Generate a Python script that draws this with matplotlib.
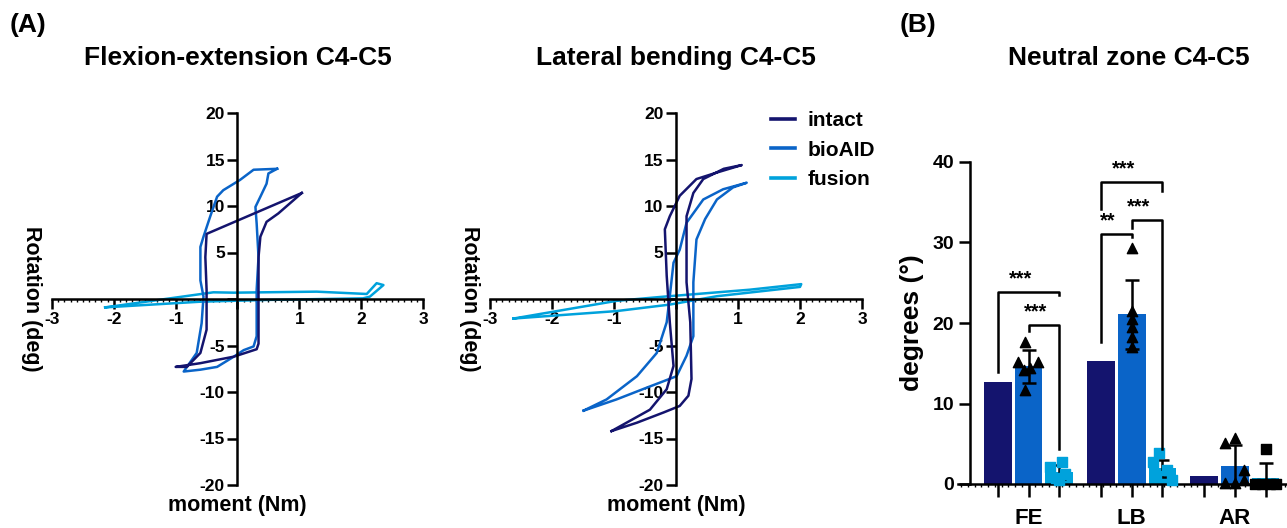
import matplotlib.pyplot as plt
import numpy as np
from matplotlib.lines import Line2D

plt.rcParams['font.family'] = ['Liberation Sans', 'DejaVu Sans']
plt.rcParams['font.weight'] = 'bold'

c_intact = '#14146e'
c_bioaid = '#0a64c8'
c_fusion = '#00a2dc'

# ---- panel A data: hysteresis loops (moment Nm, rotation deg)
fe_intact_x = [1.04, 0.66, 0.47, 0.37, 0.34, 0.34, 0.34, 0.31, -0.06, -0.6, -1.0, -0.82, -0.6, -0.5, -0.5, -0.52, -0.5, 1.04]
fe_intact_y = [11.4, 9.2, 8.3, 6.7, 4.5, 1.0, -4.8, -5.4, -6.2, -6.9, -7.3, -7.3, -5.8, -3.3, 1.0, 4.5, 7.0, 11.4]

fe_bioaid_x = [0.64, 0.26, 0.04, -0.23, -0.33, -0.44, -0.55, -0.6, -0.6, -0.55, -0.58, -0.66, -0.87,
               -0.6, -0.33, -0.06, 0.1, 0.26, 0.31, 0.31, 0.34, 0.31, 0.29, 0.37, 0.47, 0.5, 0.64]
fe_bioaid_y = [14.0, 13.9, 12.8, 11.7, 11.0, 8.9, 6.7, 5.6, 2.0, 0.25, -2.6, -5.8, -7.8,
               -7.6, -7.3, -6.2, -5.5, -5.1, -4.0, 1.0, 4.5, 8.1, 9.9, 11.0, 12.4, 13.5, 14.0]

fe_fusion_x = [-2.14, -0.39, -0.06, 1.28, 2.09, 2.25, 2.36, 2.14, 2.03, 0.47, -0.6, -2.14]
fe_fusion_y = [-0.9, 0.72, 0.68, 0.79, 0.54, 1.7, 1.5, 0.25, 0.07, -0.1, -0.29, -0.9]

lb_intact_x = [-1.04, -0.63, -0.2, 0.06, 0.2, 0.25, 0.23, 0.17, 0.17, 0.28, 0.44, 0.77, 1.06,
               0.66, 0.33, 0.06, -0.1, -0.18, -0.15, -0.1, -0.04, -0.15, -0.42, -1.04]
lb_intact_y = [-14.2, -13.3, -12.2, -11.5, -10.4, -8.6, -2.5, 1.8, 8.9, 11.4, 12.9, 14.0, 14.4,
               13.6, 12.9, 11.1, 8.9, 7.5, 2.5, -2.5, -7.2, -9.7, -11.9, -14.2]

lb_bioaid_x = [-1.49, -0.96, -0.42, 0.01, 0.17, 0.28, 0.28, 0.33, 0.47, 0.66, 0.92, 1.14,
               0.76, 0.44, 0.17, 0.06, -0.04, -0.1, -0.15, -0.31, -0.63, -1.12, -1.49]
lb_bioaid_y = [-12.0, -10.8, -9.4, -8.3, -6.1, -4.0, 1.8, 6.4, 8.6, 10.7, 12.0, 12.5,
               11.8, 10.7, 8.2, 5.3, 3.9, 0.3, -2.5, -5.8, -8.3, -10.8, -12.0]

lb_fusion_x = [-2.62, -0.96, -0.2, 1.19, 2.02, 2.0, 0.66, -0.1, -0.96, -2.62]
lb_fusion_y = [-2.1, -0.2, 0.25, 1.0, 1.6, 1.3, 0.3, -0.6, -1.3, -2.1]

# ---- panel B data: neutral zone
categories = ['FE', 'LB', 'AR']
nz_intact = [12.65, 15.25, 1.0]
nz_bioaid = [14.6, 21.1, 2.25]
nz_fusion = [1.45, 1.95, 0.8]
sd_bioaid = [2.0, 4.3, 2.6]
sd_fusion = [0.85, 1.05, 1.75]
pts_bioaid = [[17.7, 15.2, 15.2, 14.4, 14.2, 11.7],
              [29.3, 21.5, 20.5, 19.5, 18.3, 17.0],
              [5.75, 5.1, 1.8, 0.5, 0.1, 0.1]]
pts_fusion = [[2.7, 2.1, 1.2, 0.8, 0.5],
              [3.8, 2.7, 1.8, 1.0, 0.5],
              [4.4, 0.0, 0.0, 0.0, 0.0]]
# brackets: (category, bar from, bar to, left foot, top, right foot, label)
brackets = [(0, 0, 2, 13.9, 23.85, 23.5, '***'),
            (0, 1, 2, 19.0, 19.8, 4.4, '***'),
            (1, 0, 2, 34.2, 37.5, 36.4, '***'),
            (1, 0, 1, 17.65, 31.1, 30.7, '**'),
            (1, 1, 2, 31.8, 32.8, 4.3, '***')]

fig = plt.figure(figsize=(12.87, 5.28), dpi=100)

lw = 1.8


def loop_axes(rect, title, curves):
    ax = fig.add_axes(rect)
    for x, y, col in curves:
        ax.plot(x, y, color=col, lw=lw, solid_joinstyle='round')
    ax.set_xlim(-3, 3)
    ax.set_ylim(-20, 20)
    ax.spines['left'].set_position('zero')
    ax.spines['bottom'].set_position('zero')
    ax.spines['right'].set_visible(False)
    ax.spines['top'].set_visible(False)
    for s in ('left', 'bottom'):
        ax.spines[s].set_linewidth(lw)
    ax.set_xticks(np.arange(-3, 4, 1))
    ax.set_xticks(np.arange(-3, 3.01, 0.1), minor=True)
    ax.set_yticks(np.arange(-20, 21, 5))
    ax.set_yticklabels([str(v) if v != 0 else '' for v in range(-20, 21, 5)])
    ax.set_xticklabels([str(v) if v != 0 else '' for v in range(-3, 4)])
    ax.tick_params(axis='both', which='major', direction='out', length=7, width=lw,
                   labelsize=12.5, pad=2)
    ax.tick_params(axis='x', which='minor', direction='out', length=2.5, width=1)
    for t in ax.get_xticklabels() + ax.get_yticklabels():
        t.set_fontweight('bold')
    ax.text(0.5, -0.055, 'moment (Nm)', transform=ax.transAxes, ha='center', va='center',
            fontsize=15.5, fontweight='bold')
    ax.text(-0.055, 0.5, 'Rotation (deg)', transform=ax.transAxes, ha='center', va='center',
            rotation=-90, fontsize=15.5, fontweight='bold')
    fig.text(rect[0] + rect[2] / 2, 1 - 58 / 528, title, ha='center', va='center',
             fontsize=19, fontweight='bold')
    return ax


ax1 = loop_axes([52 / 1287, 1 - 485 / 528, 371 / 1287, 372 / 528], 'Flexion-extension C4-C5',
                [(fe_fusion_x, fe_fusion_y, c_fusion), (fe_bioaid_x, fe_bioaid_y, c_bioaid),
                 (fe_intact_x, fe_intact_y, c_intact)])
ax2 = loop_axes([490 / 1287, 1 - 485 / 528, 372 / 1287, 372 / 528], 'Lateral bending C4-C5',
                [(lb_fusion_x, lb_fusion_y, c_fusion), (lb_bioaid_x, lb_bioaid_y, c_bioaid),
                 (lb_intact_x, lb_intact_y, c_intact)])

# legend
handles = [Line2D([], [], color=c, lw=2.6) for c in (c_intact, c_bioaid, c_fusion)]
leg = ax2.legend(handles, ['intact', 'bioAID', 'fusion'], loc='upper left',
                 bbox_to_anchor=(0.705, 1.055), frameon=False, fontsize=15, handlelength=1.15,
                 handletextpad=0.6, labelspacing=0.5)
for t in leg.get_texts():
    t.set_fontweight('bold')

fig.text(10 / 1287, 1 - 25 / 528, '(A)', fontsize=19, fontweight='bold', va='center')
fig.text(900 / 1287, 1 - 25 / 528, '(B)', fontsize=19, fontweight='bold', va='center')

# ---- panel B
ax3 = fig.add_axes([958 / 1287, 1 - 484 / 528, 329 / 1287, 322 / 528])
group_gap = 3.36
width = 0.9
centers = np.arange(len(categories)) * group_gap
offs = np.array([-1.0, 0.0, 1.0])
pos = [centers + o for o in offs]

ax3.bar(pos[0], nz_intact, width, color=c_intact, zorder=2)
ax3.bar(pos[1], nz_bioaid, width, color=c_bioaid, zorder=2)
ax3.bar(pos[2], nz_fusion, width, color=c_fusion, zorder=2)
ax3.errorbar(pos[1], nz_bioaid, yerr=sd_bioaid, fmt='none', ecolor='black', elinewidth=lw,
             capsize=5, capthick=lw, zorder=3)
ax3.errorbar(pos[2], nz_fusion, yerr=sd_fusion, fmt='none', ecolor='black', elinewidth=lw,
             capsize=5, capthick=lw, zorder=3)

jit_b = [[-0.12, -0.35, 0.32, 0.05, -0.15, -0.12], [0, 0, 0, 0, 0, 0], [0.0, -0.32, 0.3, 0.3, -0.32, 0.0]]
jit_f = [[0.1, -0.3, 0.2, -0.1, 0.0], [-0.1, -0.3, 0.15, -0.2, 0.3], [0.0, -0.35, -0.12, 0.15, 0.35]]
sq_col = [c_fusion, c_fusion, 'black']
for i in range(len(categories)):
    ax3.scatter(pos[1][i] + np.array(jit_b[i]), pts_bioaid[i], marker='^', s=55, color='black',
                zorder=4, clip_on=False)
    ax3.scatter(pos[2][i] + np.array(jit_f[i]), pts_fusion[i], marker='s', s=42, color=sq_col[i],
                zorder=4, clip_on=False)

for cat, a, b, yl, yt, yr, lab in brackets:
    xa = pos[a][cat]
    xb = pos[b][cat]
    ax3.plot([xa, xa, xb, xb], [yl, yt, yt, yr], color='black', lw=lw, zorder=5)
    ax3.text((xa + xb) / 2 - 0.27, yt + 1.6, lab, ha='center', va='center', fontsize=14.5,
             fontweight='bold')

ax3.set_xlim(-2.30, 8.42)
ax3.set_ylim(0, 40)
ax3.spines['left'].set_position(('data', -1.91))
ax3.spines['right'].set_visible(False)
ax3.spines['top'].set_visible(False)
for s in ('left', 'bottom'):
    ax3.spines[s].set_linewidth(lw)
ax3.set_yticks([0, 10, 20, 30, 40])
ax3.set_xticks(np.concatenate(pos))
ax3.set_xticklabels([])
ax3.set_xticks(np.arange(-2.2, 8.4, 0.22), minor=True)
ax3.tick_params(axis='x', which='major', direction='out', length=9, width=lw)
ax3.tick_params(axis='x', which='minor', direction='out', length=2, width=1)
ax3.tick_params(axis='y', direction='out', length=8, width=lw, labelsize=14)
for t in ax3.get_yticklabels():
    t.set_fontweight('bold')
for c, lab in zip(centers, categories):
    ax3.text(c, -4.3, lab, ha='center', va='center', fontsize=16, fontweight='bold')
ax3.set_ylabel('degrees (°)', fontsize=19, fontweight='bold', labelpad=6)
fig.text((958 + 1287) / 2 / 1287 + 0.005, 1 - 58 / 528, 'Neutral zone C4-C5', ha='center',
         va='center', fontsize=19, fontweight='bold')

fig.savefig('out.png', dpi=100)
